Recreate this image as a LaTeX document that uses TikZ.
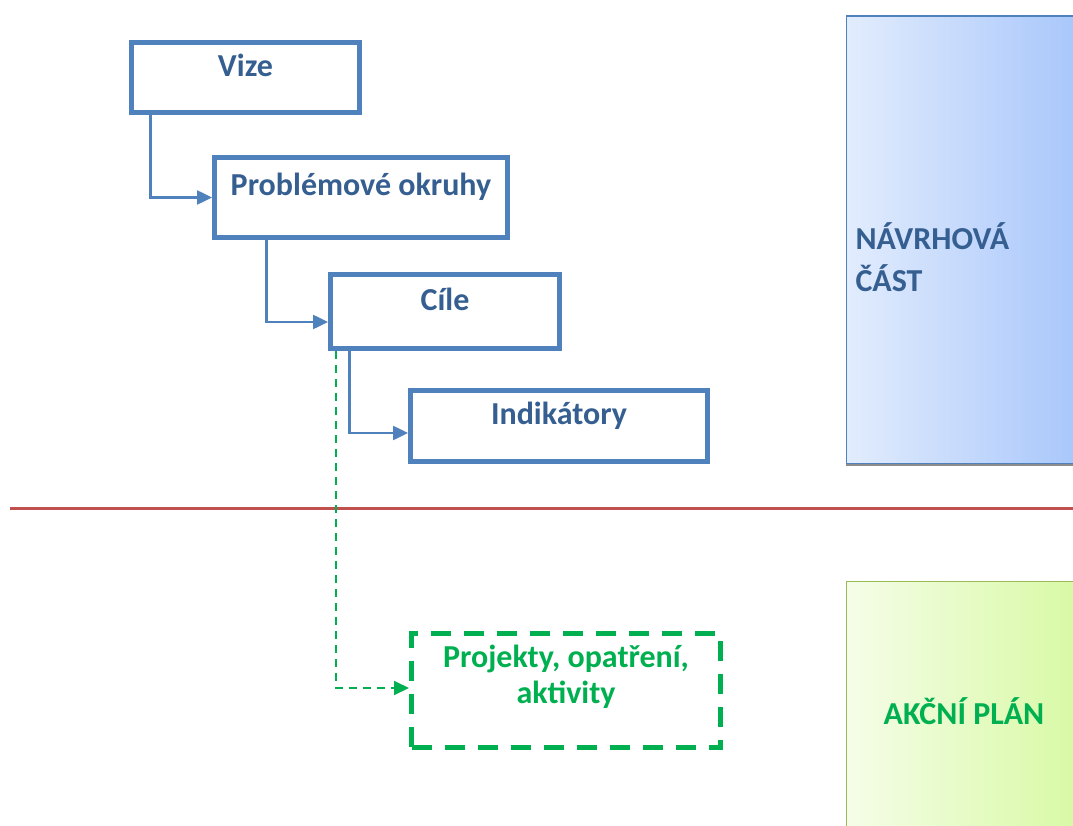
\documentclass[tikz,border=0pt]{standalone}
\usepackage{fontspec}
\setmainfont{Carlito}
\usepackage{xcolor}
\usetikzlibrary{positioning,arrows.meta,shadows}

\definecolor{boxblue}{RGB}{79,129,189}
\definecolor{textblue}{RGB}{54,95,145}
\definecolor{planggreen}{RGB}{0,176,80}
\definecolor{dividerred}{RGB}{192,80,77}
\definecolor{leafgreen}{RGB}{155,187,89}

\begin{document}
\begin{tikzpicture}[
    x=1pt,
    y=-1pt,
    >=Stealth,
    font=\fontsize{32}{36}\selectfont\bfseries
]

\useasboundingbox (0,0) rectangle (1073,826);
\clip (0,0) rectangle (1073,826);

\tikzstyle{level}=[
    rectangle,
    draw=boxblue,
    line width=5pt,
    fill=white,
    text=textblue,
    inner sep=0pt,
    text height=22pt,
    text depth=25pt
]

\tikzstyle{link}=[
    draw=boxblue,
    line width=2.5pt,
    -{Triangle[length=15pt,width=14pt]}
]

\tikzstyle{planlink}=[
    draw=planggreen,
    line width=2pt,
    dash pattern=on 8pt off 6pt,
    -{Triangle[length=15pt,width=14pt]}
]

\tikzstyle{part}=[
    rectangle,
    line width=1.5pt,
    inner sep=0pt
]


\node[part, draw=boxblue, left color={rgb,255:red,226;green,236;blue,253}, right color={rgb,255:red,164;green,196;blue,251},
    minimum width=250, minimum height=447, anchor=north west,
    drop shadow={shadow xshift=0pt, shadow yshift=-3pt, opacity=0.45, fill=black}] (navrh) at (845.5,15.5) {};
\node[part, draw=leafgreen, left color={rgb,255:red,245;green,253;blue,232}, right color={rgb,255:red,214;green,249;blue,160},
    minimum width=250, minimum height=280, anchor=north west] (akce) at (845.5,580.5) {};

\node[anchor=west, align=left, text=textblue, font=\fontsize{32}{42}\selectfont\bfseries] (navrhtext) at (852,257) {NÁVRHOVÁ\\ČÁST};
\node[text=planggreen] (akcetext) at (964,711) {AKČNÍ PLÁN};


\draw[dividerred, line width=3pt] (10,508) coordinate (delL) -- (1073,508) coordinate (delR);


\node[level, minimum width=228, minimum height=70.5] (vize) at (245.5,77.75) {Vize};
\node[level, minimum width=293, minimum height=80] (okruhy) at (361,197.5) {Problémové okruhy};
\node[level, minimum width=229, minimum height=74] (cile) at (445,311.5) {Cíle};
\node[level, minimum width=297, minimum height=71] (indik) at (559,426) {Indikátory};
\node[level, draw=planggreen, text=planggreen, dash pattern=on 20pt off 13pt, align=center,
    minimum width=309, minimum height=114, text height=26pt, text depth=0pt] (projekty) at (566,690.5) {Projekty, opatření,\\aktivity};


\draw[link] ([xshift=21.5pt]vize.south west) |- (okruhy.west);
\draw[link] ([xshift=54.5pt]okruhy.south west) |- ([yshift=-10.5pt]cile.west);
\draw[link] ([xshift=21.5pt]cile.south west) |- ([yshift=-7pt]indik.west);
\draw[planlink] ([xshift=7.5pt]cile.south west) |- ([yshift=2.5pt]projekty.west);

\end{tikzpicture}
\end{document}
